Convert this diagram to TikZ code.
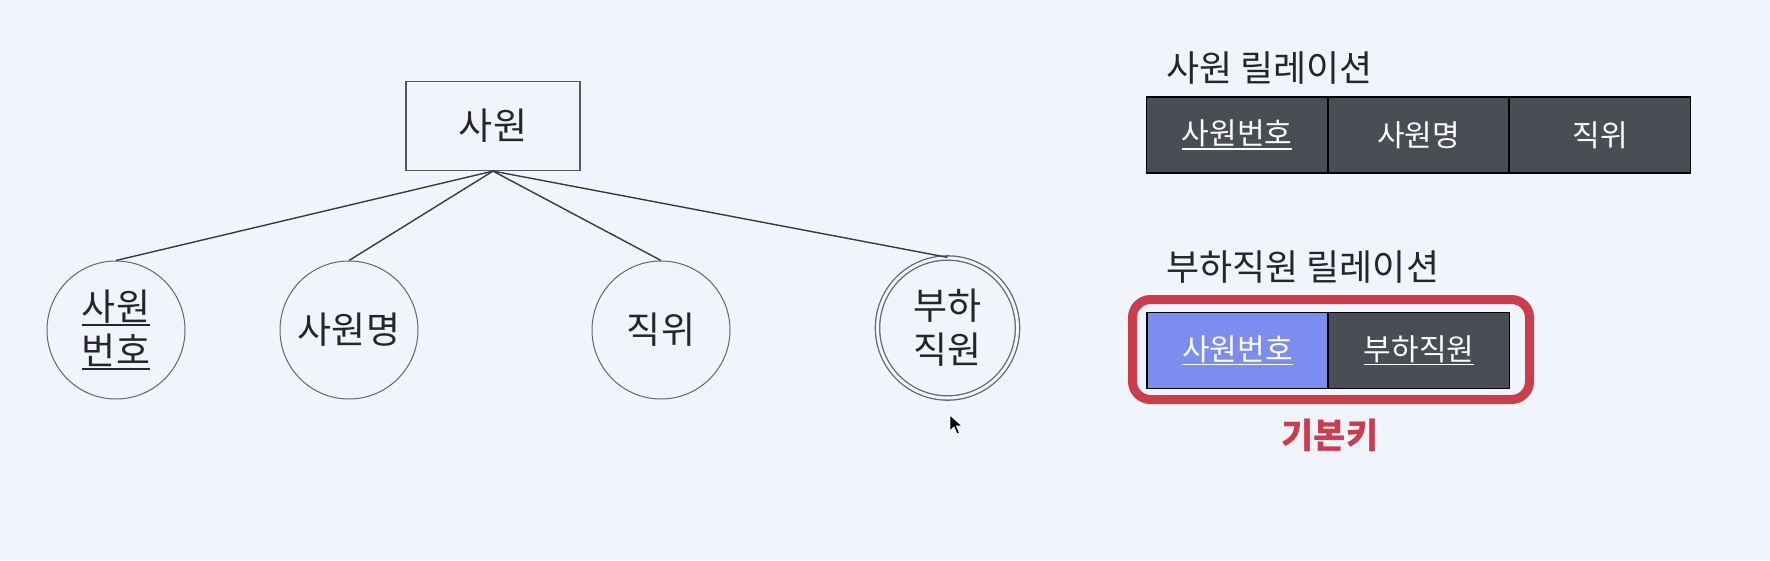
\documentclass[tikz,border=0pt]{standalone}
\usepackage{fontspec}
\setmainfont{Noto Sans CJK KR}
\definecolor{bg}{HTML}{F0F4FC}
\definecolor{cell}{HTML}{4A4D53}
\definecolor{keyblue}{HTML}{7B8EF0}
\definecolor{keyred}{HTML}{CD3C4B}
\definecolor{edge}{HTML}{3A3A3A}
\newlength\ulw
\newcommand\uln[1]{\settowidth\ulw{#1}\rlap{\rule[-0.17em]{\ulw}{0.06em}}#1}
\tikzset{
  entity/.style={draw=black!65, line width=1.2pt, fill=bg, minimum width=174pt, minimum height=89pt, inner sep=0pt, text=black!85, font=\fontsize{37}{44}\selectfont},
  attr/.style={circle, draw=black!60, line width=1pt, fill=bg, minimum size=138pt, inner sep=0pt, align=center, text=black!85, font=\fontsize{37}{44}\selectfont},
  conn/.style={draw=edge, line width=1.4pt},
  tcell/.style={draw=black, line width=1.6pt, fill=cell, text=white, minimum width=181pt, minimum height=76pt, inner sep=0pt, font=\fontsize{30}{36}\selectfont},
  title/.style={anchor=west, inner sep=0pt, font=\fontsize{36}{42}\selectfont, text=black!85}
}
\begin{document}
\begin{tikzpicture}[x=1pt,y=-1pt]
\useasboundingbox[fill=bg] (0,0) rectangle (1770,560);
% ER diagram
\node[entity] (emp) at (493,126) {사원};
\node[attr] (a1) at (116,330) {\uln{사원}\\\uln{번호}};
\node[attr] (a2) at (349,330) {사원명};
\node[attr] (a3) at (661,330) {직위};
\node[attr, minimum size=140pt, double=bg, double distance=3pt, line width=1.3pt] (a4) at (947.5,328) {부하\\직원};
\draw[conn] (emp.south) -- (a1.north);
\draw[conn] (emp.south) -- (a2.north);
\draw[conn] (emp.south) -- (a3.north);
\draw[conn] (emp.south) -- (a4.north);
% cursor
\filldraw[fill=black, draw=white, line width=0.8pt] (950,415) -- (950,431) -- (954,427) -- (957,434) -- (959.5,433) -- (956.5,426) -- (962,426) -- cycle;
% relation 1
\node[title] (t1) at (1166,68) {사원 릴레이션};
\node[tcell] (r11) at (1237,135) {\uln{사원번호}};
\node[tcell] (r12) at (1418.5,135) {사원명};
\node[tcell] (r13) at (1600,135) {직위};
% relation 2
\node[title] (t2) at (1166,267) {부하직원 릴레이션};
\node[tcell, fill=keyblue] (r21) at (1237.5,350.5) {\uln{사원번호}};
\node[tcell] (r22) at (1419,350.5) {\uln{부하직원}};
\draw[draw=keyred, line width=9pt, rounded corners=18pt] (1132.5,299.5) rectangle (1529.5,399.5);
\node[text=keyred, font=\fontsize{35}{42}\selectfont\bfseries, inner sep=0pt] (pk) at (1330,435) {기본키};
\end{tikzpicture}
\end{document}
